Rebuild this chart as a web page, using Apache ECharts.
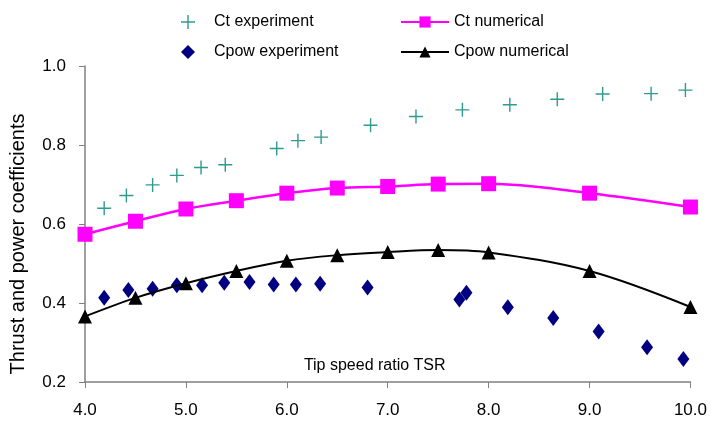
<!DOCTYPE html>
<html><head><meta charset="utf-8">
<script src="https://cdn.jsdelivr.net/npm/echarts@6/dist/echarts.min.js"></script>
<style>html,body{margin:0;padding:0;background:#fff}#c{width:710px;height:425px}</style>
</head><body><div id="c"></div>
<script>
var ctExpX = [4.19,4.41,4.67,4.91,5.15,5.39,5.90,6.11,6.34,6.83,7.28,7.74,8.21,8.68,9.13,9.61,9.95];
var ctExpY = [0.640,0.672,0.699,0.723,0.743,0.750,0.791,0.811,0.820,0.850,0.872,0.889,0.902,0.916,0.929,0.930,0.939];
var cpExpX = [4.19,4.43,4.67,4.91,5.16,5.38,5.63,5.87,6.09,6.33,6.80,7.71,7.78,8.19,8.64,9.09,9.57,9.93];
var cpExpY = [0.413,0.433,0.436,0.445,0.445,0.451,0.453,0.447,0.447,0.449,0.439,0.409,0.426,0.389,0.362,0.328,0.288,0.258];
var numX = [4.0,4.5,5.0,5.5,6.0,6.5,7.0,7.5,8.0,9.0,10.0];
var ctNumY = [0.574,0.607,0.638,0.659,0.678,0.691,0.695,0.701,0.702,0.678,0.643];
var cpNumY = [0.366,0.413,0.450,0.481,0.507,0.521,0.529,0.534,0.528,0.481,0.390];
var xTicks = ['4.0','5.0','6.0','7.0','8.0','9.0','10.0'];

function pairs(xs, ys){ return xs.map(function(x,i){return [x, ys[i]];}); }
var FONT = '"Liberation Sans",Arial,sans-serif';
var plus = 'path://M9,0h2v9h9v2h-9v9h-2v-9h-9v-2h9z';
var chart = echarts.init(document.getElementById('c'));
function leg(name, left, top, w, pad){
  return {data:[name], left:left, top:top, orient:'horizontal', itemGap:0,
    itemWidth:w, itemHeight:14,
    textStyle:{fontFamily:FONT, fontSize:16, color:'#000', padding:[0,0,0,pad]}};
}
chart.setOption({
  animation:false,
  textStyle:{fontFamily:FONT},
  legend:[
    leg('Ct experiment', 176, 9, 14, 14),
    leg('Cpow experiment', 176, 39, 14, 14),
    leg('Ct numerical', 395, 9, 48, 0),
    leg('Cpow numerical', 395, 39, 48, 0)
  ],
  grid:{left:80, right:13, top:66, bottom:43, containLabel:false},
  xAxis:{type:'value', min:4, max:10, interval:1,
    name:'Tip speed ratio TSR', nameLocation:'middle', nameGap:-24,
    nameTextStyle:{fontFamily:FONT, fontSize:16, color:'#000', padding:[0,26,0,0]},
    axisLine:{lineStyle:{color:'#808080', width:1.5}},
    axisTick:{show:true, length:6, lineStyle:{color:'#808080'}},
    axisLabel:{margin:20, fontSize:17, color:'#000', fontFamily:FONT, formatter:function(v){return xTicks[Math.round(v-4)];}},
    splitLine:{show:false}},
  yAxis:{type:'value', min:0.2, max:1.0, interval:0.2,
    name:'Thrust and power coefficients', nameLocation:'middle', nameGap:57,
    nameTextStyle:{fontFamily:FONT, fontSize:20, color:'#000', padding:[0,40,0,0]},
    axisLine:{show:true, lineStyle:{color:'#808080', width:1.5}},
    axisTick:{show:true, length:6, lineStyle:{color:'#808080'}},
    axisLabel:{margin:19, fontSize:17, color:'#000', fontFamily:FONT, formatter:function(v){return v.toFixed(1);}},
    splitLine:{show:false}},
  series:[
    {name:'Ct experiment', type:'scatter', data:pairs(ctExpX, ctExpY), symbol:plus, symbolSize:14,
      itemStyle:{color:'#2e9a90', opacity:1}},
    {name:'Ct numerical', type:'line', data:pairs(numX, ctNumY), smooth:0.35, symbol:'rect', symbolSize:15,
      lineStyle:{color:'#ff00ff', width:2.5}, itemStyle:{color:'#ff00ff'}},
    {name:'Cpow experiment', type:'scatter', data:pairs(cpExpX, cpExpY), symbol:'diamond', symbolSize:[12,16],
      itemStyle:{color:'#000080', opacity:1}},
    {name:'Cpow numerical', type:'line', data:pairs(numX, cpNumY), smooth:0.35, symbol:'triangle', symbolSize:14,
      lineStyle:{color:'#000', width:2}, itemStyle:{color:'#000'}}
  ]
});
</script></body></html>
